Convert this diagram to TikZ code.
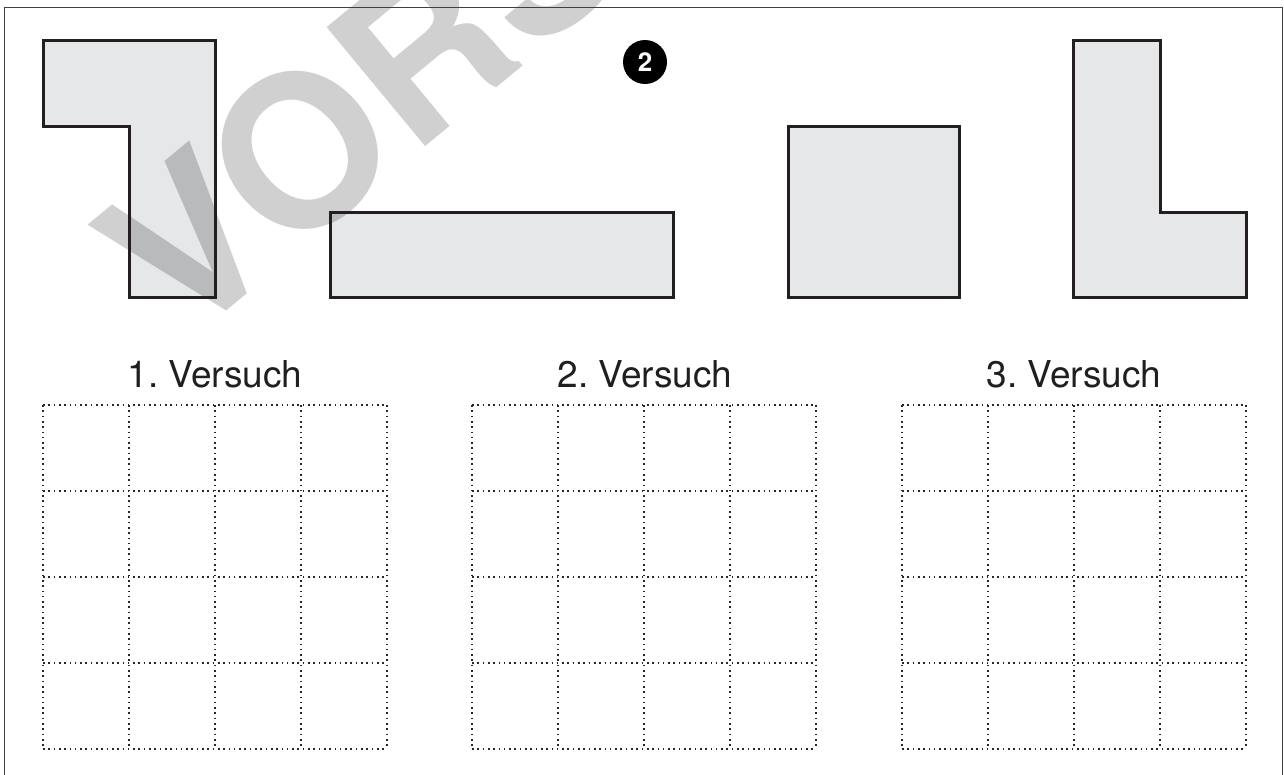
\documentclass[tikz,border=0pt]{standalone}
\usepackage{fontspec}
\setmainfont{TeX Gyre Heros}
\definecolor{shapefill}{HTML}{E6E7E8}
\definecolor{wmlight}{HTML}{D0D0D0}
\definecolor{wmdark}{HTML}{B9BABC}
\definecolor{outline}{HTML}{231F20}
\begin{document}
\frenchspacing
\begin{tikzpicture}[x=1pt,y=-1pt,
  piecefill/.style={fill=shapefill},
  pieceline/.style={draw=outline, line width=3pt, line join=miter},
  gridline/.style={draw=black!85, line width=1.5pt, dash pattern=on 1.6pt off 3.7pt},
  versuchlabel/.style={font=\fontsize{37}{40}\selectfont, anchor=base, inner sep=0pt, text=black!88},
  wmtext/.style={font=\bfseries\fontsize{212}{212}\selectfont, anchor=base west, inner sep=0pt, rotate=39.6},
  framestyle/.style={draw=black!75, line width=1.5pt}]
\useasboundingbox (0,0) rectangle (1284,774);
\clip (0,0) rectangle (1284,774);
% fills
\fill[piecefill] (43,40) -- (215,40) -- (215,297) -- (129,297) -- (129,126) -- (43,126) -- cycle;
\fill[piecefill] (330,212) rectangle (673,297);
\fill[piecefill] (788,126) rectangle (959,297);
\fill[piecefill] (1073,40) -- (1160,40) -- (1160,212) -- (1246,212) -- (1246,297) -- (1073,297) -- cycle;
% watermark
\node[wmtext, text=wmlight] (wm) at (182,348) {VORSCHAU};
\begin{scope}
  \clip (43,40) -- (215,40) -- (215,297) -- (129,297) -- (129,126) -- (43,126) -- cycle
        (330,212) rectangle (673,297)
        (788,126) rectangle (959,297);
  \node[wmtext, text=wmdark] (wmb) at (182,348) {VORSCHAU};
\end{scope}
% outlines
\draw[pieceline] (43,40) -- (215,40) -- (215,297) -- (129,297) -- (129,126) -- (43,126) -- cycle;
\draw[pieceline] (330,212) rectangle (673,297);
\draw[pieceline] (788,126) rectangle (959,297);
\draw[pieceline] (1073,40) -- (1160,40) -- (1160,212) -- (1246,212) -- (1246,297) -- (1073,297) -- cycle;
% frame
\draw[framestyle] (4.5,800) -- (4.5,7.5) -- (1282.3,7.5) -- (1282.3,800);
% badge
\node[circle, fill=black, minimum size=44pt, inner sep=0pt, text=white,
      font=\bfseries\fontsize{26}{26}\selectfont] (badge) at (645,62) {2};
% labels
\node[versuchlabel] (v1) at (215,387) {1. Versuch};
\node[versuchlabel] (v2) at (645,387) {2. Versuch};
\node[versuchlabel] (v3) at (1074,387) {3. Versuch};
% grids
\foreach \gx in {43,472,902}{
  \foreach \i in {0,...,4}{
    \draw[gridline] (\gx+86*\i,405) -- (\gx+86*\i,749);
    \draw[gridline] (\gx,405+86*\i) -- (\gx+344,405+86*\i);
  }
}
\end{tikzpicture}
\end{document}
